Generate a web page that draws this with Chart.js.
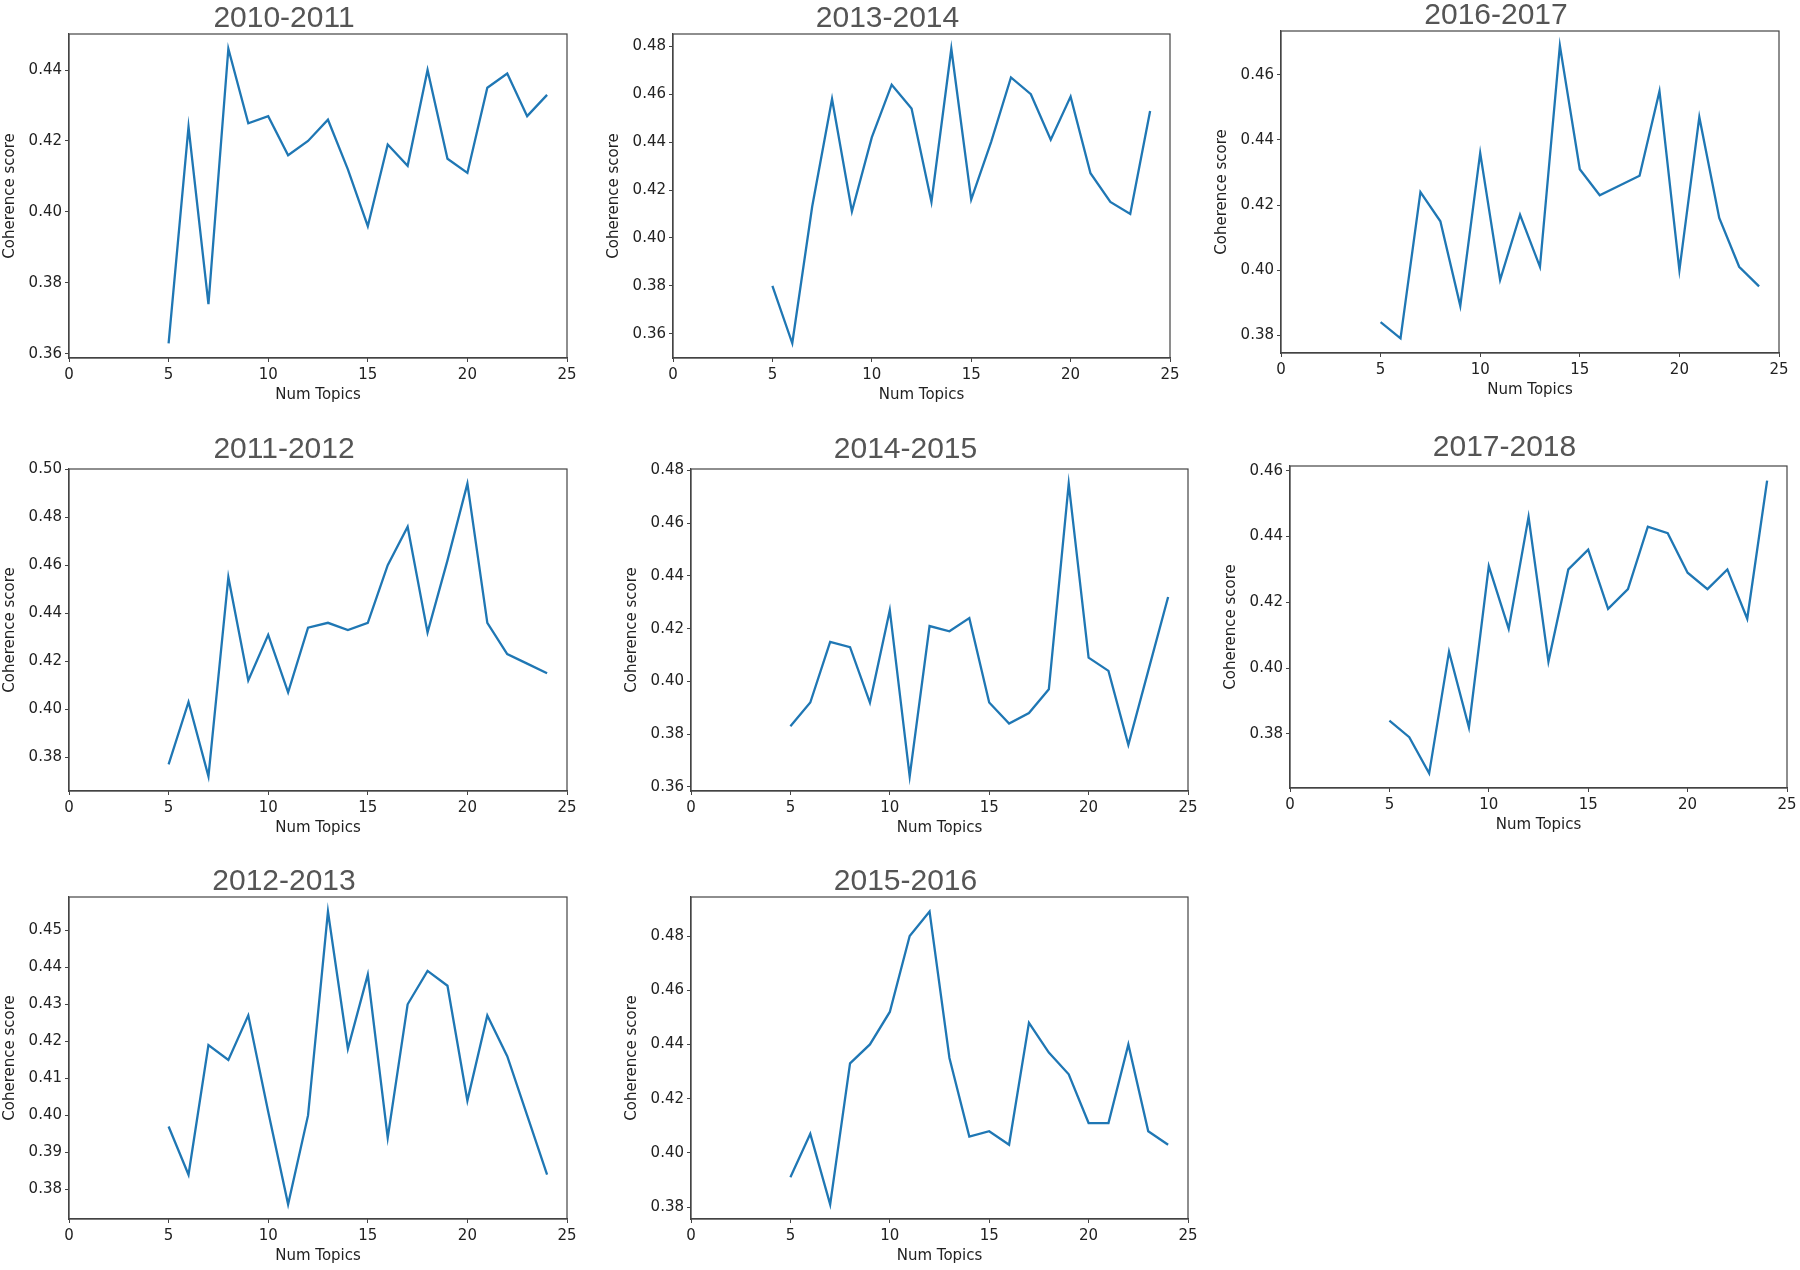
<!DOCTYPE html>
<html lang="en">
<head>
<meta charset="UTF-8">
<title>Coherence score vs number of topics</title>
<script src="https://cdn.jsdelivr.net/npm/chart.js@4.4.1/dist/chart.umd.min.js"></script>
<style>
    body {
        margin: 0;
        background: #fff;
        width: 1800px;
        height: 1270px;
        position: relative;
        overflow: hidden;
    }
    canvas {
        position: absolute;
    }
</style>
</head>
<body>
<script>
    // x values shared by every panel
    const numTopics = [5, 6, 7, 8, 9, 10, 11, 12, 13, 14, 15, 16, 17, 18, 19, 20, 21, 22, 23, 24];

    // coherence score per period
    const score2010 = [0.363, 0.424, 0.374, 0.446, 0.425, 0.427, 0.416, 0.420, 0.426, 0.412, 0.396, 0.419, 0.413, 0.440, 0.415, 0.411, 0.435, 0.439, 0.427, 0.433];
    const score2011 = [0.377, 0.403, 0.372, 0.455, 0.412, 0.431, 0.407, 0.434, 0.436, 0.433, 0.436, 0.460, 0.476, 0.432, 0.462, 0.494, 0.436, 0.423, 0.419, 0.415];
    const score2012 = [0.397, 0.384, 0.419, 0.415, 0.427, 0.401, 0.376, 0.400, 0.455, 0.418, 0.438, 0.394, 0.430, 0.439, 0.435, 0.404, 0.427, 0.416, 0.400, 0.384];
    const score2013 = [0.380, 0.356, 0.413, 0.458, 0.411, 0.442, 0.464, 0.454, 0.415, 0.479, 0.416, 0.440, 0.467, 0.460, 0.441, 0.459, 0.427, 0.415, 0.410, 0.453];
    const score2014 = [0.383, 0.392, 0.415, 0.413, 0.392, 0.427, 0.364, 0.421, 0.419, 0.424, 0.392, 0.384, 0.388, 0.397, 0.475, 0.409, 0.404, 0.376, 0.404, 0.432];
    const score2015 = [0.391, 0.407, 0.381, 0.433, 0.440, 0.452, 0.480, 0.489, 0.435, 0.406, 0.408, 0.403, 0.448, 0.437, 0.429, 0.411, 0.411, 0.440, 0.408, 0.403];
    const score2016 = [0.384, 0.379, 0.424, 0.415, 0.389, 0.436, 0.397, 0.417, 0.401, 0.469, 0.431, 0.423, 0.426, 0.429, 0.455, 0.400, 0.447, 0.416, 0.401, 0.395];
    const score2017 = [0.384, 0.379, 0.368, 0.405, 0.382, 0.431, 0.412, 0.446, 0.402, 0.430, 0.436, 0.418, 0.424, 0.443, 0.441, 0.429, 0.424, 0.430, 0.415, 0.457];

    // panel titles
    const titles = ['2010-2011', '2011-2012', '2012-2013', '2013-2014', '2014-2015', '2015-2016', '2016-2017', '2017-2018'];
    const xTicks = [0, 5, 10, 15, 20, 25];

    // plot area of each panel on the page: left, top, right, bottom (+ gap under title)
    const panels = [
        { title: titles[0], data: score2010, step: 0.02, gap: 0, box: [69, 34, 567, 358] },
        { title: titles[1], data: score2011, step: 0.02, gap: 4, box: [69, 469, 567, 791] },
        { title: titles[2], data: score2012, step: 0.01, gap: 0, box: [69, 897, 567, 1219] },
        { title: titles[3], data: score2013, step: 0.02, gap: 0, box: [673, 34, 1170, 358] },
        { title: titles[4], data: score2014, step: 0.02, gap: 4, box: [691, 469, 1188, 791] },
        { title: titles[5], data: score2015, step: 0.02, gap: 0, box: [691, 897, 1188, 1219] },
        { title: titles[6], data: score2016, step: 0.02, gap: 0, box: [1281, 31, 1779, 353] },
        { title: titles[7], data: score2017, step: 0.02, gap: 3, box: [1290, 466, 1787, 788] }
    ];

    const Y_AXIS_W = 68;
    const X_AXIS_H = 46;
    const TITLE_H = 30;
    const PAD_RIGHT = 16;
    const axisColor = '#444';

    // matplotlib style frame around the plot area
    const framePlugin = {
        id: 'frame',
        afterDraw(chart) {
            const a = chart.chartArea;
            const ctx = chart.ctx;
            ctx.save();
            ctx.strokeStyle = axisColor;
            ctx.lineWidth = 1.2;
            ctx.strokeRect(a.left, a.top, a.right - a.left, a.bottom - a.top);
            ctx.restore();
        }
    };

    panels.forEach(p => {
        const [l, t, r, b] = p.box;
        const canvas = document.createElement('canvas');
        const w = (r - l) + Y_AXIS_W + PAD_RIGHT;
        const h = (b - t) + TITLE_H + p.gap + X_AXIS_H;
        canvas.width = w;
        canvas.height = h;
        canvas.style.width = w + 'px';
        canvas.style.height = h + 'px';
        canvas.style.left = (l - Y_AXIS_W) + 'px';
        canvas.style.top = (t - TITLE_H - p.gap) + 'px';
        document.body.appendChild(canvas);

        // autoscale like matplotlib: 5% margin around the data
        const lo = Math.min(...p.data), hi = Math.max(...p.data);
        const margin = (hi - lo) * 0.05;

        new Chart(canvas, {
            type: 'line',
            data: {
                datasets: [{
                    data: numTopics.map((n, i) => ({ x: n, y: p.data[i] })),
                    borderColor: '#1f77b4',
                    borderWidth: 2.3,
                    pointRadius: 0,
                    tension: 0,
                    fill: false
                }]
            },
            options: {
                responsive: false,
                animation: false,
                layout: { padding: { left: 0, right: PAD_RIGHT, top: 0, bottom: 0 } },
                plugins: {
                    legend: { display: false },
                    tooltip: { enabled: false },
                    title: {
                        display: true,
                        text: p.title,
                        color: '#555',
                        font: { family: 'Liberation Sans, Arial, sans-serif', size: 30, weight: 'normal', lineHeight: 1.0 },
                        padding: { top: 0, bottom: p.gap }
                    }
                },
                scales: {
                    x: {
                        type: 'linear',
                        min: 0,
                        max: 25,
                        afterBuildTicks: s => { s.ticks = xTicks.map(v => ({ value: v })); },
                        afterFit: s => { s.height = X_AXIS_H; },
                        grid: { display: true, drawOnChartArea: false, drawTicks: true, tickLength: 4, color: axisColor },
                        border: { display: true, color: axisColor, width: 1.2 },
                        ticks: {
                            color: '#222',
                            padding: 4,
                            maxRotation: 0,
                            font: { family: 'DejaVu Sans, sans-serif', size: 15 }
                        },
                        title: {
                            display: true,
                            text: 'Num Topics',
                            color: '#222',
                            padding: { top: 0, bottom: 0 },
                            font: { family: 'DejaVu Sans, sans-serif', size: 15 }
                        }
                    },
                    y: {
                        min: lo - margin,
                        max: hi + margin,
                        afterFit: s => { s.width = Y_AXIS_W; },
                        grid: { display: true, drawOnChartArea: false, drawTicks: true, tickLength: 4, color: axisColor },
                        border: { display: true, color: axisColor, width: 1.2 },
                        ticks: {
                            stepSize: p.step,
                            includeBounds: false,
                            color: '#222',
                            padding: 3,
                            font: { family: 'DejaVu Sans, sans-serif', size: 15 },
                            callback: v => v.toFixed(2)
                        },
                        title: {
                            display: true,
                            text: 'Coherence score',
                            color: '#222',
                            padding: { top: 0, bottom: 2 },
                            font: { family: 'DejaVu Sans, sans-serif', size: 15 }
                        }
                    }
                }
            },
            plugins: [framePlugin]
        });
    });
</script>
</body>
</html>
